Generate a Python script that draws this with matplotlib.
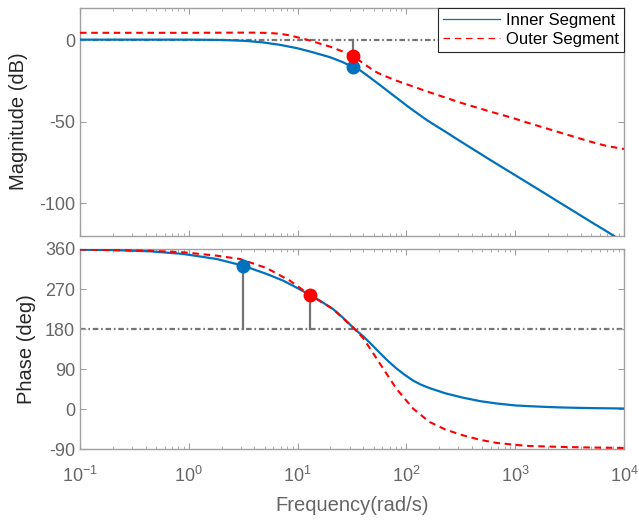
import numpy as np
import matplotlib.pyplot as plt

plt.rcParams['font.family'] = ['Liberation Sans', 'DejaVu Sans']
plt.rcParams['mathtext.fontset'] = 'custom'
plt.rcParams['mathtext.rm'] = 'Liberation Sans'
plt.rcParams['mathtext.default'] = 'regular'
plt.rcParams['axes.unicode_minus'] = False
plt.rcParams['lines.scale_dashes'] = False

# Magnitude (dB)
mag_freq_inner = [0.1, 0.3, 1, 2, 2.7, 3.4, 4.8, 6.9, 10, 13.9, 19.9, 26, 32.6, 37.5, 46, 57,
                  75.6, 100, 115, 133, 153, 190, 230, 309, 450, 623, 900, 1262, 1800, 2555,
                  3600, 5170, 7000, 10000]
mag_inner = [0.3, 0.3, 0.3, 0.1, -0.2, -0.5, -1.4, -2.9, -5.0, -7.5, -10.5, -13.5, -16.7,
             -18.5, -22.8, -27.5, -33.8, -40.0, -43.0, -46.0, -48.9, -52.9, -56.3, -61.8,
             -68.6, -74.5, -81.0, -87.0, -93.3, -99.6, -105.7, -112.2, -117.5, -124.0]

mag_freq_outer = [0.1, 1, 3, 4, 5.5, 6.9, 8.5, 10, 12, 13.9, 16.5, 19.9, 26, 32.6, 40, 45,
                  49.6, 55, 65, 80.6, 110, 163, 230, 309, 450, 623, 900, 1262, 1800, 2555,
                  3600, 5170, 7000, 10000]
mag_outer = [4.5, 4.5, 4.6, 4.6, 4.4, 3.9, 2.9, 1.7, 0.4, -0.8, -2.4, -4.0, -7.0, -9.8,
             -14.2, -16.5, -18.5, -20.2, -22.3, -24.8, -28.0, -32.0, -35.3, -38.2, -41.5,
             -44.3, -47.3, -50.4, -53.5, -56.6, -59.6, -62.7, -65.0, -66.8]

# Phase (deg)
ph_freq_inner = [0.1, 0.2, 0.44, 0.89, 1.8, 3.17, 5.2, 7.4, 10, 13, 16, 21.2, 26, 33.5, 40,
                 46.3, 57, 68, 80.6, 95, 115, 135, 163, 230, 330, 480, 680, 1000, 1350,
                 2000, 2780, 5000, 10000]
ph_inner = [358.4, 357.5, 354.8, 348.8, 337.5, 322.4, 303.8, 288.7, 272.0, 256.5, 244.0,
            225.0, 206.0, 180.0, 164.0, 149.0, 126.5, 108.0, 92.0, 78.5, 64.5, 55.5, 47.5,
            35.5, 26.0, 18.0, 12.8, 8.5, 6.8, 5.0, 3.8, 2.5, 1.6]

ph_freq_outer = [0.1, 0.44, 0.89, 1.8, 2.95, 5.2, 8.5, 13, 21.2, 33.5, 40.3, 57, 80.6, 115,
                 163, 230, 330, 480, 680, 1000, 1350, 2780, 5000, 10000]
ph_outer = [358.8, 356.0, 352.6, 345.0, 337.5, 317.0, 288.7, 256.5, 225.0, 180.0, 159.0,
            102.8, 46.6, 1.6, -28.6, -46.0, -58.5, -69.0, -75.8, -80.0, -82.6, -84.8,
            -86.0, -87.0]

# margin markers
gm_freq = 32.6
gm_inner = -16.7
gm_outer = -9.8
pm_freq_inner = 3.17
pm_inner = 322.4
pm_freq_outer = 13.0
pm_outer = 256.5

blue = '#0072BD'
red = '#FF0000'
grey = '#747474'
tick_col = '#666666'
spine_col = '#a0a0a0'
dashdot = (0, (4.0, 2.0, 1.2, 2.0))
dashed = (0, (4.7, 3.4))

fig = plt.figure(figsize=(6.39, 5.2), dpi=100)
ax1 = fig.add_axes([0.1252, 0.5467, 0.8513, 0.4388])
ax2 = fig.add_axes([0.1252, 0.1360, 0.8513, 0.3852])

# magnitude
ax1.axhline(0, color=grey, lw=1.6, ls=dashdot, zorder=1)
ax1.plot([gm_freq, gm_freq], [0, gm_inner], color=grey, lw=1.6, zorder=2)
ax1.plot(mag_freq_inner, mag_inner, color=blue, lw=1.6, label='Inner Segment', zorder=3)
ax1.plot(mag_freq_outer, mag_outer, color=red, lw=1.5, ls=dashed, label='Outer Segment', zorder=3)
ax1.plot(gm_freq, gm_inner, 'o', color=blue, ms=9, zorder=4)
ax1.plot(gm_freq, gm_outer, 'o', color=red, ms=9, zorder=5)
ax1.set_ylim(-120, 20)
ax1.set_yticks([-100, -50, 0])
ax1.set_ylabel('Magnitude (dB)', fontsize=14.5, color='#262626')
ax1.yaxis.set_label_coords(-0.095, 0.5)
leg = ax1.legend(loc='upper right', borderaxespad=0, fancybox=False, framealpha=1,
                 edgecolor='#262626', fontsize=12, handlelength=3.4, handletextpad=0.35,
                 borderpad=0.3, labelspacing=0.25)
leg.get_frame().set_linewidth(0.8)
for h in leg.get_lines():
    h.set_linewidth(0.9)

# phase
ax2.axhline(180, color=grey, lw=1.6, ls=dashdot, zorder=1)
ax2.plot([pm_freq_inner, pm_freq_inner], [180, pm_inner], color=grey, lw=1.6, zorder=2)
ax2.plot([pm_freq_outer, pm_freq_outer], [180, pm_outer], color=grey, lw=1.6, zorder=2)
ax2.plot(ph_freq_inner, ph_inner, color=blue, lw=1.6, zorder=3)
ax2.plot(ph_freq_outer, ph_outer, color=red, lw=1.5, ls=dashed, zorder=3)
ax2.plot(pm_freq_inner, pm_inner, 'o', color=blue, ms=9, zorder=4)
ax2.plot(pm_freq_outer, pm_outer, 'o', color=red, ms=9, zorder=4)
ax2.set_ylim(-90, 360)
ax2.set_yticks([-90, 0, 90, 180, 270, 360])
ax2.set_ylabel('Phase (deg)', fontsize=14.5, color='#262626')
ax2.yaxis.set_label_coords(-0.08, 0.5)
ax2.set_xlabel('Frequency(rad/s)', fontsize=14.5, color=tick_col, labelpad=7)

for ax in (ax1, ax2):
    ax.set_xscale('log')
    ax.set_xlim(0.1, 1e4)
    ax.tick_params(which='both', direction='in', top=True, right=True,
                   color=spine_col, labelcolor=tick_col, labelsize=13)
    ax.tick_params(which='major', length=4.5)
    ax.tick_params(which='minor', length=2.5)
    for s in ax.spines.values():
        s.set_color(spine_col)
        s.set_linewidth(1.0)
ax1.tick_params(labelbottom=False)
ax2.tick_params(axis='x', which='major', pad=12)

fig.savefig('out.png', dpi=100)
